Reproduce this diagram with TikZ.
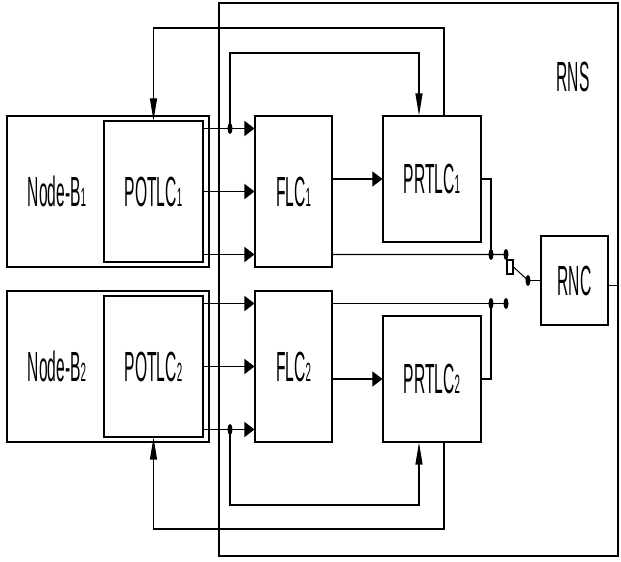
\documentclass[tikz,border=0pt]{standalone}
\usepackage{fontspec}
\setmainfont[FakeStretch=0.37]{Liberation Sans}
\usetikzlibrary{arrows.meta}

\newcommand{\idx}[1]{{\fontsize{15}{15}\selectfont #1}}

\begin{document}
\begin{tikzpicture}[
    line width=0.6pt,
    font=\fontsize{24}{26}\selectfont,
    blk/.style={draw, inner sep=0pt},
    harr/.style={-{Triangle[length=0.2cm,width=0.3cm]}},
    varr/.style={-{Triangle[length=0.44cm,width=0.14cm]}},
    dot/.style={fill, x radius=0.05cm, y radius=0.11cm}
]
\useasboundingbox (0,0) rectangle (12.42,11.24);

% ========== 外框 RNS ==========
\node[blk, minimum width=7.98cm, minimum height=11.06cm] (rns) at (8.37,5.65) {};
\node (rnslbl) at (11.46,9.70) {RNS};

% ========== 两组 Node-B / FLC / PRTLC ==========
\foreach \i/\y/\s in {1/7.41/1, 2/3.91/-1} {
    \node[blk, minimum width=4.04cm, minimum height=3.02cm] (nb\i) at (2.16,\y) {};
    \node (nbt\i) at (1.14,\y) {Node-B\idx{\i}};
    \node[blk, minimum width=1.98cm, minimum height=2.82cm] (po\i) at (3.07,\y) {POTLC\idx{\i}};
    \node[blk, minimum width=1.54cm, minimum height=3.02cm] (flc\i) at (5.87,\y) {FLC\idx{\i}};
    \node[blk, minimum width=1.96cm, minimum height=2.52cm] (pr\i) at (8.64,\y+0.25*\s) {PRTLC\idx{\i}};
    \foreach \dy in {1.26,0,-1.26} {
        \draw[harr] ([yshift=\dy cm]po\i.east) -- ([yshift=\dy cm]flc\i.west); % 三条链路
    }
    \draw[harr] (flc\i.east |- pr\i.west) -- (pr\i.west);
}

% ========== 汇合点 ==========
\coordinate (j1) at (4.60,8.67);
\coordinate (j2) at (4.60,2.65);
\coordinate (c1a) at (9.82,6.15);
\coordinate (c1b) at (10.12,6.15);
\coordinate (c2a) at (9.82,5.17);
\coordinate (c2b) at (10.12,5.17);
\coordinate (piv) at (10.56,5.63);

% ========== 反馈回路 ==========
\draw[varr] (j1) |- (8.38,10.18) -- ([xshift=-0.26cm]pr1.north);
\draw[varr] ([xshift=0.24cm]pr1.north) |- (3.07,10.68) -- (po1.north);
\draw[varr] (j2) |- (8.38,1.14) -- ([xshift=-0.26cm]pr2.south);
\draw[varr] ([xshift=0.24cm]pr2.south) |- (3.07,0.66) -- (po2.south);

% ========== 输出到 RNC ==========
\draw (pr1.east) -| (c1a);
\draw ([yshift=-1.26cm]flc1.east) -- (c1b);
\draw (pr2.east) -| (c2a);
\draw ([yshift=1.26cm]flc2.east) -- (c2b);
\foreach \c in {j1,j2,c1a,c1b,c2a,c2b,piv} {
    \fill[dot] (\c) ellipse [];
}

% 开关
\node[blk, fill=white, minimum width=0.12cm, minimum height=0.28cm] (sw) at (10.20,5.90) {};
\draw (sw.east) -- (piv);
\node[blk, minimum width=1.34cm, minimum height=1.78cm] (rnc) at (11.49,5.63) {RNC};
\draw (piv) -- (rnc.west);
\draw ([yshift=-0.1cm]rnc.east) -- ([yshift=-0.1cm]rnc.east -| rns.east);

\end{tikzpicture}
\end{document}
